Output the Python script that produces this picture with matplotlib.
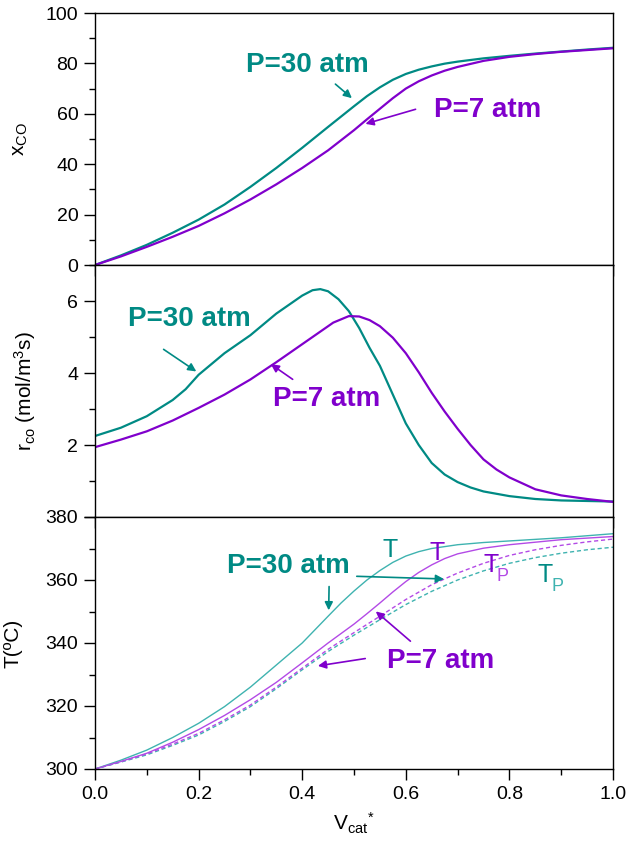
import numpy as np
from matplotlib import pyplot as plt

plt.rcParams['font.family'] = ['Liberation Sans', 'DejaVu Sans']
plt.rcParams['mathtext.default'] = 'regular'

teal = '#008a84'
purple = '#8000cc'
teal_l = '#3fb3b0'
purple_l = '#b34ae6'

# conversion of CO (top)
x_top = [0, 0.05, 0.1, 0.15, 0.2, 0.25, 0.3, 0.35, 0.4, 0.45, 0.5, 0.525, 0.55, 0.575, 0.6,
         0.625, 0.65, 0.675, 0.7, 0.75, 0.8, 0.85, 0.9, 0.95, 1.0]
xco_30 = [0, 3.8, 8.0, 12.8, 18, 24, 31, 38.5, 46.5, 54.8, 63, 67, 70.5, 73.5, 75.8,
          77.5, 78.8, 79.9, 80.7, 82, 83, 83.9, 84.7, 85.5, 86.2]
xco_7 = [0, 3.4, 7.2, 11.2, 15.5, 20.5, 26, 32, 38.5, 45.5, 53.5, 57.8, 62, 66.2, 70,
         72.9, 75.2, 77.1, 78.6, 81, 82.6, 83.7, 84.6, 85.3, 86]

# reaction rate (middle)
x_r30 = [0, 0.05, 0.1, 0.15, 0.175, 0.2, 0.25, 0.3, 0.35, 0.375, 0.4, 0.42, 0.435, 0.45, 0.47,
         0.49, 0.51, 0.53, 0.55, 0.575, 0.6, 0.625, 0.65, 0.675, 0.7, 0.725, 0.75, 0.8, 0.85, 0.9, 1.0]
r_30 = [2.25, 2.48, 2.8, 3.25, 3.55, 3.95, 4.55, 5.05, 5.65, 5.9, 6.15, 6.3, 6.33, 6.27, 6.05,
        5.72, 5.25, 4.7, 4.2, 3.4, 2.6, 2.0, 1.5, 1.18, 0.97, 0.82, 0.71, 0.58, 0.5, 0.46, 0.43]
x_r7 = [0, 0.05, 0.1, 0.15, 0.2, 0.25, 0.3, 0.35, 0.4, 0.43, 0.46, 0.49, 0.51, 0.53, 0.55, 0.575,
        0.6, 0.625, 0.65, 0.675, 0.7, 0.725, 0.75, 0.775, 0.8, 0.85, 0.9, 0.95, 1.0]
r_7 = [1.94, 2.15, 2.38, 2.68, 3.03, 3.4, 3.82, 4.3, 4.8, 5.1, 5.4, 5.58, 5.57, 5.47, 5.3, 4.98,
       4.55, 4.02, 3.45, 2.93, 2.45, 2.0, 1.6, 1.32, 1.1, 0.77, 0.6, 0.5, 0.42]

# temperatures (bottom)
x_T30 = [0, 0.05, 0.1, 0.15, 0.2, 0.25, 0.3, 0.35, 0.4, 0.45, 0.475, 0.5, 0.525, 0.55, 0.575,
         0.6, 0.625, 0.65, 0.7, 0.75, 0.8, 0.9, 1.0]
T_30 = [300, 302.8, 306, 310, 314.5, 319.8, 326, 333, 340, 348.5, 352.7, 356.5, 360, 363, 365.6,
        367.6, 369, 370, 371.2, 371.9, 372.4, 373.4, 374.7]
x_T7 = [0, 0.05, 0.1, 0.15, 0.2, 0.25, 0.3, 0.35, 0.4, 0.45, 0.5, 0.525, 0.55, 0.575, 0.6,
        0.625, 0.65, 0.675, 0.7, 0.75, 0.8, 0.9, 1.0]
T_7 = [300, 302.4, 305, 308.5, 312.5, 317, 322, 327.5, 333.7, 340, 346, 349.3, 352.7, 356.2, 359.5,
       362.4, 364.8, 366.8, 368.3, 370.1, 371.2, 372.8, 373.8]
x_Tp = [0, 0.05, 0.1, 0.15, 0.2, 0.25, 0.3, 0.35, 0.4, 0.45, 0.5, 0.55, 0.6, 0.65, 0.7,
        0.75, 0.8, 0.85, 0.9, 0.95, 1.0]
Tp_7 = [300, 302.3, 304.8, 307.9, 311.3, 315.6, 320.3, 326, 332, 338, 343.3, 348.5, 353.8, 358.5, 362.2,
        365.3, 367.8, 369.6, 371, 372.1, 373]
Tp_30 = [300, 302.2, 304.5, 307.5, 310.8, 315.1, 319.8, 325.5, 331.5, 337.3, 342.5, 347.4, 352.2, 356.4, 360,
         362.9, 365.3, 367.1, 368.5, 369.6, 370.4]

fig = plt.figure(figsize=(6.37, 8.41), dpi=100)
L, W, H = 95/637, 518/637, 252/841
ax1 = fig.add_axes([L, 1-265/841, W, H])
ax2 = fig.add_axes([L, 1-517/841, W, H])
ax3 = fig.add_axes([L, 1-769/841, W, H])

for ax in (ax1, ax2, ax3):
    ax.set_xlim(0, 1)
    ax.set_xticks(np.arange(0, 1.01, 0.2))
    ax.set_xticks(np.arange(0.1, 1.0, 0.2), minor=True)
    ax.tick_params(which='major', direction='out', length=8, width=1, labelsize=14, pad=4)
    ax.tick_params(which='minor', direction='out', length=4, width=1)
    for s in ax.spines.values():
        s.set_linewidth(1)
for ax in (ax1, ax2):
    ax.tick_params(axis='x', labelbottom=False)

bold = dict(fontsize=20, fontweight='bold')
arr = dict(arrowstyle='-|>', lw=1.2, mutation_scale=12)

# top panel
ax1.plot(x_top, xco_30, color=teal, lw=1.6)
ax1.plot(x_top, xco_7, color=purple, lw=1.6)
ax1.set_ylim(0, 100)
ax1.set_yticks(range(0, 101, 20))
ax1.set_yticks(range(10, 100, 20), minor=True)
ax1.set_ylabel('x$_{CO}$', fontsize=15)
ax1.yaxis.set_label_coords(-0.125, 0.5)
ax1.text(0.41, 79.4, 'P=30 atm', color=teal, ha='center', va='center', **bold)
ax1.annotate('', xy=(0.5, 65.5), xytext=(0.46, 72.5), arrowprops=dict(color=teal, **arr))
ax1.text(0.757, 61.4, 'P=7 atm', color=purple, ha='center', va='center', **bold)
ax1.annotate('', xy=(0.517, 55.7), xytext=(0.624, 62.1), arrowprops=dict(color=purple, **arr))

# middle panel
ax2.plot(x_r30, r_30, color=teal, lw=1.6)
ax2.plot(x_r7, r_7, color=purple, lw=1.6)
ax2.set_ylim(0, 7)
ax2.set_yticks([0, 2, 4, 6])
ax2.set_yticklabels(['', '2', '4', '6'])
ax2.set_yticks([1, 3, 5, 7], minor=True)
ax2.set_ylabel('r$_{co}$ (mol/m$^3$s)', fontsize=15)
ax2.yaxis.set_label_coords(-0.11, 0.5)
ax2.text(0.183, 5.49, 'P=30 atm', color=teal, ha='center', va='center', **bold)
ax2.annotate('', xy=(0.2, 4.0), xytext=(0.128, 4.7), arrowprops=dict(color=teal, **arr))
ax2.text(0.447, 3.27, 'P=7 atm', color=purple, ha='center', va='center', **bold)
ax2.annotate('', xy=(0.335, 4.29), xytext=(0.386, 3.78), arrowprops=dict(color=purple, **arr))

# bottom panel
ax3.plot(x_T30, T_30, color=teal_l, lw=1.0)
ax3.plot(x_T7, T_7, color=purple_l, lw=1.0)
ax3.plot(x_Tp, Tp_30, color=teal_l, lw=1.0, ls=(0, (3, 2)))
ax3.plot(x_Tp, Tp_7, color=purple_l, lw=1.0, ls=(0, (3, 2)))
ax3.set_ylim(300, 380)
ax3.set_yticks(range(300, 381, 20))
ax3.set_yticks(range(310, 380, 20), minor=True)
ax3.set_ylabel('T(ºC)', fontsize=15)
ax3.yaxis.set_label_coords(-0.14, 0.5)
ax3.set_xlabel('V$_{cat}$$^{*}$', fontsize=15, labelpad=6)
ax3.text(0.374, 364.4, 'P=30 atm', color=teal, ha='center', va='center', **bold)
ax3.annotate('', xy=(0.451, 349.5), xytext=(0.452, 358.8), arrowprops=dict(color=teal, **arr))
ax3.annotate('', xy=(0.679, 360.3), xytext=(0.5, 361.2), arrowprops=dict(color=teal, **arr))
ax3.text(0.667, 334.2, 'P=7 atm', color=purple, ha='center', va='center', **bold)
ax3.annotate('', xy=(0.538, 350.6), xytext=(0.613, 340), arrowprops=dict(color=purple, **arr))
ax3.annotate('', xy=(0.425, 332.6), xytext=(0.527, 335.2), arrowprops=dict(color=purple, **arr))
ax3.text(0.57, 369.6, 'T', color=teal, ha='center', va='center', fontsize=18)
ax3.text(0.66, 368.6, 'T', color=purple, ha='center', va='center', fontsize=18)
# T_P labels: big T, small lowered P
ax3.text(0.75, 364.9, 'T', color=purple, ha='left', va='center', fontsize=18)
ax3.text(0.776, 361.0, 'P', color=purple_l, ha='left', va='center', fontsize=13)
ax3.text(0.855, 361.7, 'T', color=teal, ha='left', va='center', fontsize=18)
ax3.text(0.881, 357.8, 'P', color=teal_l, ha='left', va='center', fontsize=13)

fig.savefig('out.png', dpi=100)
